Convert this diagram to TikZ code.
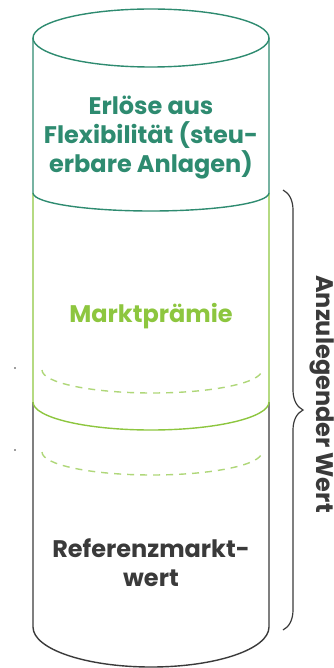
\documentclass[tikz,border=0pt]{standalone}
\usepackage{fontspec}
\setmainfont{Poppins}
\usetikzlibrary{decorations.pathreplacing}
\definecolor{flexteal}{HTML}{2E8B70}
\definecolor{praemgreen}{HTML}{8DC63F}
\definecolor{refgray}{HTML}{3A3A3A}
\tikzset{
  wall/.style={line width=1.4pt},
  lbl/.style={font=\bfseries\fontsize{24}{29}\selectfont, align=center, inner sep=0},
}

\begin{document}
\begin{tikzpicture}[x=1pt,y=1pt]
\useasboundingbox (0,0) rectangle (333,-668);
% Referenzmarktwert (unten)
\draw[wall,refgray] (33,-402) -- (33,-627) arc[start angle=180,end angle=360,x radius=118pt,y radius=40pt] -- (269,-402);
% Marktpraemie
\draw[wall,praemgreen] (33,-193) -- (33,-402) arc[start angle=180,end angle=360,x radius=118pt,y radius=28pt] -- (269,-193);
\foreach \y in {370,452} {
  \draw[wall,praemgreen!70,dash pattern=on 7pt off 6pt] (42,-\y) arc[start angle=180,end angle=360,x radius=110pt,y radius=23pt];
  \fill[refgray] (15,-\y+2) circle[radius=0.8pt];
}
% Erloese aus Flexibilitaet (oben)
\draw[wall,flexteal] (151,-38) ellipse[x radius=118pt,y radius=29pt];
\draw[wall,flexteal] (33,-38) -- (33,-193) arc[start angle=180,end angle=360,x radius=118pt,y radius=18pt] -- (269,-38);

\node[lbl,flexteal] (flex) at (151,-138) {Erlöse aus\\Flexibilität (steu-\\erbare Anlagen)};
\node[lbl,praemgreen] (praemie) at (151,-316) {Marktprämie};
\node[lbl,refgray] (refwert) at (151,-563) {Referenzmarkt-\\wert};

% Klammer
\coordinate (btop) at (283,-190);
\coordinate (bbot) at (283,-630);
\draw[refgray,line width=1.2pt,decorate,decoration={brace,amplitude=20pt}] (btop) -- (bbot);
\node[lbl,refgray,rotate=-90] (anzwert) at (322,-394) {Anzulegender Wert};
\end{tikzpicture}
\end{document}
